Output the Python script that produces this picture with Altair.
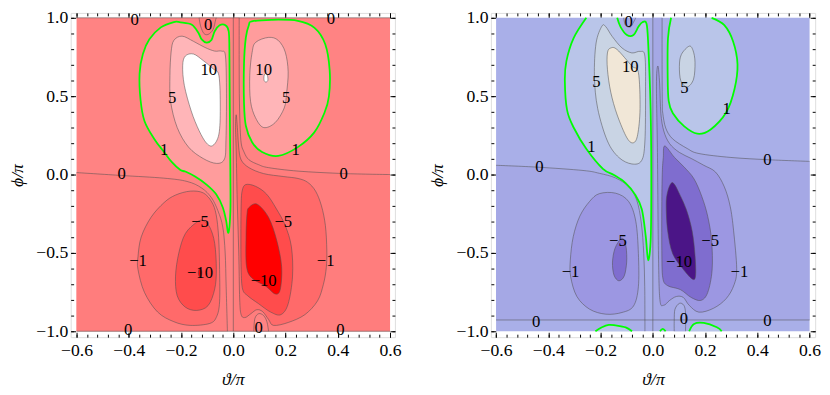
import altair as alt
import pandas as pd

FONT = "Liberation Serif"

# ---------------- axis ticks ----------------
X_MAJOR = [-0.6, -0.4, -0.2, 0.0, 0.2, 0.4, 0.6]
X_MINOR = [-0.6, -0.56, -0.52, -0.48, -0.44, -0.4, -0.36, -0.32, -0.28, -0.24, -0.2,
           -0.16, -0.12, -0.08, -0.04, 0.0, 0.04, 0.08, 0.12, 0.16, 0.2, 0.24, 0.28,
           0.32, 0.36, 0.4, 0.44, 0.48, 0.52, 0.56, 0.6]
Y_MAJOR = [-1.0, -0.5, 0.0, 0.5, 1.0]
Y_MINOR = [-1.0, -0.9, -0.8, -0.7, -0.6, -0.5, -0.4, -0.3, -0.2, -0.1, 0.0,
           0.1, 0.2, 0.3, 0.4, 0.5, 0.6, 0.7, 0.8, 0.9, 1.0]
DATA_BOX = [(-0.6, 0.6, -1.0, 1.0)]

# ---------------- left panel (red) contours, (theta/pi, phi/pi) ----------------
L_ZERO_LEFT = [(-0.6, 0.0125), (-0.4275, -0.006), (-0.266, -0.023), (-0.177, -0.044),
               (-0.121, -0.086), (-0.0836, -0.148), (-0.0589, -0.231), (-0.0401, -0.336),
               (-0.0311, -0.5), (-0.0274, -0.7125), (-0.0225, -1.0)]
L_ZERO_RIGHT = [(0.0225, 1.0), (0.0225, 0.706), (0.0236, 0.456), (0.0289, 0.219),
                (0.041, 0.144), (0.06, 0.094), (0.0975, 0.0625), (0.135, 0.044),
                (0.2475, 0.022), (0.424, 0.00625), (0.6, 0.0)]
L_ZERO_AXIS = [(0.0, 1.0), (0.0, -1.0)]
L_ZERO_TOP = [(-0.6, 1.0), (0.6, 1.0)]
L_ZERO_BOTTOM = [(-0.6, -1.0), (0.6, -1.0)]
L_POCKET_TOP = [(-0.131, 1.0), (-0.125, 0.946), (-0.1125, 0.9), (-0.0964, 0.894),
                (-0.0776, 0.925), (-0.0675, 0.9875), (-0.0649, 1.0)]
L_POCKET_BOT = [(0.0787, -1.0), (0.0825, -0.919), (0.0975, -0.8875), (0.116, -0.9),
                (0.1286, -0.939), (0.135, -1.0)]
L_P1_UL = [(-0.2276, 0.973), (-0.2025, 0.971), (-0.1586, 0.956), (-0.1339, 0.904),
           (-0.1211, 0.8625), (-0.1024, 0.842), (-0.0836, 0.858), (-0.0712, 0.914),
           (-0.0525, 0.952), (-0.030, 0.952), (-0.0176, 0.914), (-0.015, 0.8),
           (-0.0139, 0.531), (-0.0124, 0.219), (-0.0112, -0.0125), (-0.0112, -0.231),
           (-0.0187, -0.371), (-0.0274, -0.294), (-0.0401, -0.21), (-0.0649, -0.127),
           (-0.1024, -0.064), (-0.1462, -0.0125), (-0.1837, 0.019), (-0.2025, 0.029),
           (-0.236, 0.081), (-0.2651, 0.144), (-0.3026, 0.227), (-0.3401, 0.342),
           (-0.3551, 0.477), (-0.3588, 0.644), (-0.3461, 0.769), (-0.3213, 0.8625),
           (-0.2775, 0.939)]
L_P1_UR = [(0.071, 0.977), (0.146, 0.9875), (0.247, 0.981), (0.311, 0.936), (0.352, 0.831),
           (0.369, 0.664), (0.366, 0.498), (0.349, 0.394), (0.310, 0.269), (0.247, 0.175),
           (0.172, 0.119), (0.110, 0.144), (0.072, 0.206), (0.048, 0.311), (0.041, 0.456),
           (0.041, 0.706), (0.048, 0.873), (0.060, 0.956)]
L_P5_UL = [(-0.2276, 0.856), (-0.1961, 0.883), (-0.1526, 0.85), (-0.1087, 0.811),
           (-0.0712, 0.7875), (-0.045, 0.7875), (-0.030, 0.756), (-0.0262, 0.519),
           (-0.0281, 0.219), (-0.0337, 0.1), (-0.0637, 0.071), (-0.1151, 0.102),
           (-0.1714, 0.175), (-0.2148, 0.3), (-0.24, 0.467), (-0.2426, 0.633), (-0.2381, 0.781)]
L_P5_UR = [(0.135, 0.875), (0.172, 0.856), (0.199, 0.781), (0.21, 0.656), (0.204, 0.519),
           (0.195, 0.425), (0.16, 0.331), (0.116, 0.3), (0.085, 0.3625), (0.066, 0.467),
           (0.063, 0.633), (0.072, 0.779), (0.086, 0.844)]
L_P10_UL = [(-0.1837, 0.756), (-0.1526, 0.769), (-0.1151, 0.727), (-0.0776, 0.675),
            (-0.0551, 0.631), (-0.0499, 0.425), (-0.0551, 0.258), (-0.0776, 0.186),
            (-0.1024, 0.2), (-0.1312, 0.281), (-0.1612, 0.406), (-0.1875, 0.569), (-0.1938, 0.694)]
L_P10_UR = [(0.124, 0.645), (0.131, 0.63), (0.132, 0.6), (0.125, 0.59), (0.118, 0.6), (0.118, 0.63)]
L_M1_LL = [(-0.3648, -0.523), (-0.3525, -0.398), (-0.315, -0.273), (-0.2651, -0.179),
           (-0.2212, -0.131), (-0.165, -0.106), (-0.1151, -0.117), (-0.0825, -0.175),
           (-0.0656, -0.256), (-0.0562, -0.4), (-0.0525, -0.606), (-0.0525, -0.8125),
           (-0.0637, -0.906), (-0.09, -0.95), (-0.165, -0.9625), (-0.2276, -0.939),
           (-0.2899, -0.877), (-0.3401, -0.752), (-0.3648, -0.606)]
L_M1_LR = [(0.0112, 0.381), (0.0169, 0.269), (0.0206, 0.175), (0.03, 0.094), (0.06, 0.044),
           (0.116, 0.006), (0.191, -0.0125), (0.2475, -0.025), (0.285, -0.05), (0.315, -0.106),
           (0.3375, -0.2), (0.3525, -0.325), (0.358, -0.481), (0.356, -0.594), (0.345, -0.7),
           (0.3225, -0.806), (0.274, -0.894), (0.21, -0.944), (0.154, -0.9625), (0.135, -0.925),
           (0.1125, -0.875), (0.09, -0.8625), (0.0675, -0.8875), (0.045, -0.9125), (0.03, -0.894),
           (0.0244, -0.794), (0.0206, -0.481), (0.015, -0.169), (0.0112, 0.144), (0.0086, 0.3)]
L_M5_LL = [(-0.1399, -0.304), (-0.1837, -0.377), (-0.2088, -0.502), (-0.2212, -0.648),
           (-0.2148, -0.773), (-0.1837, -0.846), (-0.1399, -0.867), (-0.0964, -0.836),
           (-0.0712, -0.731), (-0.0649, -0.606), (-0.0712, -0.439), (-0.09, -0.336), (-0.1151, -0.294)]
L_M5_LR = [(0.0476, -0.064), (0.0851, -0.075), (0.1275, -0.125), (0.165, -0.219),
           (0.1987, -0.325), (0.2224, -0.461), (0.2268, -0.648), (0.21, -0.825),
           (0.1819, -0.894), (0.1425, -0.877), (0.0975, -0.825), (0.0562, -0.775),
           (0.0356, -0.731), (0.03, -0.606), (0.0289, -0.398), (0.03, -0.2), (0.0337, -0.106)]
L_M10_LL = [(-0.127, -0.6), (-0.121, -0.615), (-0.121, -0.64), (-0.127, -0.655),
            (-0.133, -0.64), (-0.133, -0.615)]
L_M10_LR = [(0.06, -0.21), (0.0911, -0.189), (0.135, -0.273), (0.1661, -0.419),
            (0.1849, -0.586), (0.18, -0.731), (0.1612, -0.7625), (0.1226, -0.7106),
            (0.0724, -0.6625), (0.0506, -0.586), (0.0487, -0.398), (0.0525, -0.252)]
L_LABELS = [("0", -0.378, 0.9875), ("0", 0.3735, 0.994), ("0", -0.0964, 0.956),
            ("10", -0.0937, 0.669), ("5", -0.2336, 0.4875), ("1", -0.2651, 0.154),
            ("10", 0.1162, 0.664), ("5", 0.2025, 0.4875), ("1", 0.2388, 0.154),
            ("0", -0.4275, 0.0), ("0", 0.4226, 0.0), ("−5", -0.1275, -0.304),
            ("−10", -0.1275, -0.627), ("−1", -0.3648, -0.554), ("−5", 0.1912, -0.304),
            ("−10", 0.1162, -0.679), ("−1", 0.3536, -0.554), ("0", 0.0975, -0.98),
            ("0", -0.4024, -0.992), ("0", 0.41, -0.995)]

# ---------------- right panel (blue) contours ----------------
R_ZERO_LEFT = [(-0.6, 0.059), (-0.44, 0.047), (-0.2673, 0.026), (-0.205, 0.008),
               (-0.1424, -0.022), (-0.0927, -0.078), (-0.0617, -0.163), (-0.0441, -0.309),
               (-0.0348, -0.503), (-0.031, -0.716), (-0.0303, -0.928), (-0.0303, -1.0)]
R_ZERO_RIGHT = [(0.0355, 1.0), (0.0355, 0.703), (0.0363, 0.453), (0.0381, 0.391),
                (0.0493, 0.297), (0.0755, 0.228), (0.1316, 0.166), (0.1764, 0.134),
                (0.2987, 0.109), (0.4482, 0.094), (0.6, 0.084)]
R_ZERO_AXIS = [(0.0, 1.0), (0.0, -1.0)]
R_ZERO_BOTTOM = [(-0.6, -0.928), (0.6, -0.928)]
R_POCKET_TOP = [(-0.1114, 1.0), (-0.105, 0.953), (-0.0864, 0.941), (-0.074, 0.972), (-0.0654, 1.0)]
R_POCKET_BOT = [(0.0819, -1.0), (0.0819, -0.928), (0.0849, -0.859), (0.1017, -0.822),
                (0.1185, -0.834), (0.1252, -0.884), (0.1252, -1.0)]
R_P1_UL = [(-0.2546, 1.0), (-0.3032, 0.87), (-0.3308, 0.724), (-0.3368, 0.597), (-0.3282, 0.411),
           (-0.3021, 0.297), (-0.2535, 0.161), (-0.191, 0.036), (-0.1488, -0.003), (-0.105, -0.053),
           (-0.0677, -0.128), (-0.0422, -0.222), (-0.0273, -0.391), (-0.0179, -0.547),
           (-0.0079, -0.401), (-0.006, 0.016), (-0.0086, 0.422), (-0.0179, 0.839),
           (-0.0243, 0.964), (-0.04, 0.972), (-0.0553, 0.9425), (-0.074, 0.89), (-0.0991, 0.89),
           (-0.1237, 0.9425), (-0.1364, 1.0)]
R_P1_UR = [(0.0699, 1.0), (0.058, 0.87), (0.0568, 0.63), (0.0606, 0.47), (0.0766, 0.391),
           (0.1204, 0.3075), (0.1701, 0.261), (0.2202, 0.286), (0.2811, 0.397), (0.3129, 0.547),
           (0.3241, 0.703), (0.3073, 0.849), (0.2736, 0.953), (0.225, 1.0)]
R_P1_BOT_A = [(-0.2198, -1.0), (-0.1948, -0.974), (-0.1686, -0.959), (-0.1424, -0.9625),
              (-0.1039, -0.975), (-0.0796, -1.0)]
R_P1_BOT_B = [(0.027, -1.0), (0.038, -0.984), (0.049, -1.0)]
R_P1_BOT_C = [(0.1391, -1.0), (0.1578, -0.953), (0.1951, -0.947), (0.2449, -0.974), (0.2636, -1.0)]
R_P5_UL = [(-0.1948, 0.947), (-0.2172, 0.839), (-0.2236, 0.63), (-0.2112, 0.422), (-0.1738, 0.214),
           (-0.1301, 0.109), (-0.0804, 0.0675), (-0.043, 0.089), (-0.0303, 0.214), (-0.028, 0.526),
           (-0.0303, 0.755), (-0.049, 0.786), (-0.0804, 0.776), (-0.1178, 0.8075),
           (-0.1551, 0.88), (-0.1798, 0.9425)]
R_P5_UR = [(0.139, 0.819), (0.1092, 0.766), (0.1017, 0.691), (0.1073, 0.597), (0.1316, 0.559),
           (0.1559, 0.609), (0.1615, 0.716), (0.154, 0.791)]
R_P10_UL = [(-0.1611, 0.8075), (-0.1364, 0.797), (-0.0804, 0.6925), (-0.0553, 0.651),
            (-0.049, 0.422), (-0.058, 0.255), (-0.074, 0.203), (-0.0991, 0.234), (-0.1364, 0.38),
            (-0.1611, 0.526), (-0.1738, 0.672), (-0.1738, 0.776)]
R_M1_LL = [(-0.3159, -0.547), (-0.3047, -0.397), (-0.2796, -0.266), (-0.2422, -0.172),
           (-0.2049, -0.122), (-0.1424, -0.119), (-0.0927, -0.172), (-0.0654, -0.297),
           (-0.0553, -0.503), (-0.0553, -0.716), (-0.074, -0.839), (-0.1178, -0.88),
           (-0.1798, -0.891), (-0.2422, -0.859), (-0.2908, -0.778), (-0.3144, -0.653)]
R_M1_LR = [(0.0194, 0.6925), (0.0262, 0.578), (0.0307, 0.391), (0.0419, 0.278), (0.0643, 0.197),
           (0.1017, 0.141), (0.1465, 0.103), (0.1951, 0.059), (0.24, 0.0156), (0.2736, -0.078),
           (0.2961, -0.203), (0.3092, -0.359), (0.321, -0.6), (0.311, -0.703), (0.2811, -0.791),
           (0.2325, -0.853), (0.1764, -0.878), (0.139, -0.834), (0.1166, -0.784), (0.0905, -0.778),
           (0.0643, -0.803), (0.0419, -0.834), (0.0269, -0.797), (0.0213, -0.484),
           (0.0176, 0.141), (0.0138, 0.578)]
R_M5_LL = [(-0.1226, -0.409), (-0.145, -0.472), (-0.1544, -0.559), (-0.1488, -0.641),
           (-0.1301, -0.678), (-0.1095, -0.647), (-0.1002, -0.559), (-0.1021, -0.466), (-0.1114, -0.416)]
R_M5_LR = [(0.0456, 0.1825), (0.083, 0.109), (0.1204, 0.047), (0.1578, -0.028), (0.1877, -0.141),
           (0.21, -0.266), (0.225, -0.422), (0.2269, -0.609), (0.21, -0.753), (0.1839, -0.803),
           (0.1465, -0.784), (0.1054, -0.734), (0.0568, -0.709), (0.0381, -0.659), (0.0344, -0.484),
           (0.0344, -0.172), (0.0363, 0.0156), (0.04, 0.109)]
R_M10_LR = [(0.0699, -0.056), (0.0568, -0.109), (0.0512, -0.191), (0.0568, -0.359), (0.0755, -0.503),
            (0.1129, -0.597), (0.1503, -0.666), (0.1634, -0.647), (0.1615, -0.516), (0.1503, -0.359),
            (0.1279, -0.222), (0.0979, -0.109), (0.0811, -0.059)]
R_LABELS = [("0", -0.0927, 0.974), ("10", -0.0864, 0.6825), ("5", -0.2161, 0.589),
            ("1", -0.2348, 0.172), ("1", 0.2822, 0.416), ("5", 0.1204, 0.553),
            ("0", -0.434, 0.047), ("0", 0.4381, 0.089), ("−5", -0.1339, -0.422),
            ("−1", -0.3148, -0.62), ("−10", 0.1005, -0.56), ("−5", 0.2194, -0.422),
            ("−1", 0.3316, -0.62), ("0", -0.4467, -0.939), ("0", 0.1193, -0.922),
            ("0", 0.4381, -0.9325)]

# ---------------- colours for each band ----------------
RED = {"lt_m10": "#FF0000", "m10_m5": "#FF4C4C", "m5_m1": "#FF6A6A", "m1_0": "#FF7D7D",
       "0_1": "#FF8383", "1_5": "#FF9C9C", "5_10": "#FFB5B8", "gt10": "#FFFFFF"}
BLUE = {"lt_m10": "#4B1587", "m10_m5": "#7F6DCF", "m5_m1": "#9C97E2", "m1_0": "#A5A8E5",
        "0_1": "#A9AFE8", "1_5": "#B9C5E9", "5_10": "#C9D4E4", "gt10": "#F1E7D7"}
GRAY = "#505050"
GREEN = "#00FF00"


def pts_df(pts):
    return pd.DataFrame({"t": [a for a, b in pts], "p": [b for a, b in pts],
                         "i": list(range(len(pts)))})


def multi_df(groups):
    rows = []
    for k, pts in enumerate(groups):
        for i, (a, b) in enumerate(pts):
            rows.append({"t": a, "p": b, "i": i, "g": k})
    return pd.DataFrame(rows)


def enc(xs, ys, with_detail=False):
    e = dict(x=alt.X("t:Q", scale=xs, axis=None), y=alt.Y("p:Q", scale=ys, axis=None),
             order=alt.Order("i:Q"))
    if with_detail:
        e["detail"] = alt.Detail("g:N")
    return e


def fill_poly(pts, color, xs, ys, interp):
    return alt.Chart(pts_df(pts)).mark_line(fill=color, strokeOpacity=0, interpolate=interp).encode(
        **enc(xs, ys))


def lines(groups, color, width, xs, ys, interp, opacity=1.0):
    return alt.Chart(multi_df(groups)).mark_line(
        stroke=color, strokeWidth=width, strokeOpacity=opacity, interpolate=interp).encode(
        **enc(xs, ys, True))


def axis_layers(xs, ys):
    d = pd.DataFrame({"t": [0.0], "p": [0.0]})
    com = dict(domain=False, grid=False, tickColor="black", tickWidth=1)
    lab = dict(labelFont=FONT, labelFontSize=18, labelColor="black", labelFlush=False,
               labelOverlap=False, format=".1f")
    a1 = alt.Chart(d).mark_point(opacity=0).encode(
        x=alt.X("t:Q", scale=xs, axis=alt.Axis(orient="bottom", values=X_MAJOR, tickSize=5, offset=-5,
                labelPadding=5, title="ϑ/π", titleFont=FONT, titleFontSize=18, titleFontStyle="italic",
                titleFontWeight="normal", titleColor="black", titlePadding=11, **lab, **com)),
        y=alt.Y("p:Q", scale=ys, axis=alt.Axis(orient="left", values=Y_MAJOR, tickSize=5, offset=-5,
                labelPadding=3, title="ϕ/π", titleFont=FONT, titleFontSize=18, titleFontStyle="italic",
                titleFontWeight="normal", titleColor="black", titlePadding=10, **lab, **com)))
    a2 = alt.Chart(d).mark_point(opacity=0).encode(
        x=alt.X("t:Q", scale=xs, axis=alt.Axis(orient="bottom", values=X_MINOR, tickSize=3, offset=-3,
                labels=False, title=None, **com)),
        y=alt.Y("p:Q", scale=ys, axis=alt.Axis(orient="left", values=Y_MINOR, tickSize=3, offset=-3,
                labels=False, title=None, **com)))
    a3 = alt.Chart(d).mark_point(opacity=0).encode(
        x=alt.X("t:Q", scale=xs, axis=alt.Axis(orient="top", values=X_MAJOR, tickSize=5, offset=-5,
                labels=False, title=None, **com)),
        y=alt.Y("p:Q", scale=ys, axis=alt.Axis(orient="right", values=Y_MAJOR, tickSize=5, offset=-5,
                labels=False, title=None, **com)))
    a4 = alt.Chart(d).mark_point(opacity=0).encode(
        x=alt.X("t:Q", scale=xs, axis=alt.Axis(orient="top", values=X_MINOR, tickSize=3, offset=-3,
                labels=False, title=None, **com)),
        y=alt.Y("p:Q", scale=ys, axis=alt.Axis(orient="right", values=Y_MINOR, tickSize=3, offset=-3,
                labels=False, title=None, **com)))
    return [a1, a2, a3, a4]


def background(color, xs, ys):
    b = DATA_BOX[0]
    d = pd.DataFrame({"t": [b[0]], "t2": [b[1]], "p": [b[2]], "p2": [b[3]]})
    return alt.Chart(d).mark_rect(fill=color, strokeWidth=0).encode(
        x=alt.X("t:Q", scale=xs, axis=None), x2="t2:Q",
        y=alt.Y("p:Q", scale=ys, axis=None), y2="p2:Q")


def label_layer(labels, xs, ys):
    d = pd.DataFrame({"txt": [a for a, b, c in labels], "t": [b for a, b, c in labels],
                      "p": [c for a, b, c in labels]})
    return alt.Chart(d).mark_text(font=FONT, fontSize=17, color="black", baseline="middle",
                                  align="center").encode(
        x=alt.X("t:Q", scale=xs, axis=None), y=alt.Y("p:Q", scale=ys, axis=None), text="txt:N")


W = 331
H = 331
YS_DOM = [-1.0375, 1.03125]

# ---------------- left panel ----------------
xsL = alt.Scale(domain=[-0.6225, 0.6187], nice=False, zero=False)
ysL = alt.Scale(domain=YS_DOM, nice=False, zero=False)
C = RED
left_layers = [
    background(C["0_1"], xsL, ysL),
    fill_poly(L_ZERO_LEFT + [(-0.6, -1.0)], C["m1_0"], xsL, ysL, "linear-closed"),
    fill_poly([(0.0, 1.0)] + L_ZERO_RIGHT + [(0.6, -1.0), (0.0, -1.0)], C["m1_0"], xsL, ysL, "linear-closed"),
    fill_poly(L_POCKET_TOP, C["m1_0"], xsL, ysL, "linear-closed"),
    fill_poly(L_P1_UL, C["1_5"], xsL, ysL, "cardinal-closed"),
    fill_poly(L_P1_UR, C["1_5"], xsL, ysL, "cardinal-closed"),
    fill_poly(L_P5_UL, C["5_10"], xsL, ysL, "cardinal-closed"),
    fill_poly(L_P5_UR, C["5_10"], xsL, ysL, "cardinal-closed"),
    fill_poly(L_P10_UL, C["gt10"], xsL, ysL, "cardinal-closed"),
    fill_poly(L_P10_UR, C["gt10"], xsL, ysL, "cardinal-closed"),
    fill_poly(L_M1_LL, C["m5_m1"], xsL, ysL, "cardinal-closed"),
    fill_poly(L_M1_LR, C["m5_m1"], xsL, ysL, "cardinal-closed"),
    fill_poly(L_POCKET_BOT, C["0_1"], xsL, ysL, "linear-closed"),
    fill_poly(L_M5_LL, C["m10_m5"], xsL, ysL, "cardinal-closed"),
    fill_poly(L_M5_LR, C["m10_m5"], xsL, ysL, "cardinal-closed"),
    fill_poly(L_M10_LL, C["lt_m10"], xsL, ysL, "cardinal-closed"),
    fill_poly(L_M10_LR, C["lt_m10"], xsL, ysL, "cardinal-closed"),
    lines([L_P5_UL, L_P5_UR, L_P10_UL, L_P10_UR, L_M1_LL, L_M1_LR, L_M5_LL, L_M5_LR,
           L_M10_LL, L_M10_LR], GRAY, 0.9, xsL, ysL, "cardinal-closed", 0.6),
    lines([L_ZERO_LEFT, L_ZERO_RIGHT, L_POCKET_TOP, L_POCKET_BOT], GRAY, 0.9, xsL, ysL, "cardinal", 0.6),
    lines([L_ZERO_AXIS, L_ZERO_TOP, L_ZERO_BOTTOM], GRAY, 0.9, xsL, ysL, "linear", 0.6),
    lines([L_P1_UL, L_P1_UR], GREEN, 1.8, xsL, ysL, "cardinal-closed"),
    label_layer(L_LABELS, xsL, ysL),
] + axis_layers(xsL, ysL)
left = alt.layer(*left_layers).resolve_axis(x="independent", y="independent").properties(width=W, height=H)

# ---------------- right panel ----------------
xsR = alt.Scale(domain=[-0.6198, 0.6213], nice=False, zero=False)
ysR = alt.Scale(domain=YS_DOM, nice=False, zero=False)
C = BLUE
right_layers = [
    background(C["0_1"], xsR, ysR),
    fill_poly(R_ZERO_LEFT[:-1] + [(-0.6, -0.928)], C["m1_0"], xsR, ysR, "linear-closed"),
    fill_poly([(0.0, 1.0)] + R_ZERO_RIGHT + [(0.6, -0.928), (0.0, -0.928)], C["m1_0"], xsR, ysR, "linear-closed"),
    fill_poly(R_POCKET_TOP, C["m1_0"], xsR, ysR, "linear-closed"),
    fill_poly(R_P1_UL, C["1_5"], xsR, ysR, "linear-closed"),
    fill_poly(R_P1_UR, C["1_5"], xsR, ysR, "linear-closed"),
    fill_poly(R_P1_BOT_A, C["1_5"], xsR, ysR, "linear-closed"),
    fill_poly(R_P1_BOT_B, C["1_5"], xsR, ysR, "linear-closed"),
    fill_poly(R_P1_BOT_C, C["1_5"], xsR, ysR, "linear-closed"),
    fill_poly(R_P5_UL, C["5_10"], xsR, ysR, "cardinal-closed"),
    fill_poly(R_P5_UR, C["5_10"], xsR, ysR, "cardinal-closed"),
    fill_poly(R_P10_UL, C["gt10"], xsR, ysR, "cardinal-closed"),
    fill_poly(R_M1_LL, C["m5_m1"], xsR, ysR, "cardinal-closed"),
    fill_poly(R_M1_LR, C["m5_m1"], xsR, ysR, "cardinal-closed"),
    fill_poly(R_POCKET_BOT, C["0_1"], xsR, ysR, "linear-closed"),
    fill_poly(R_M5_LL, C["m10_m5"], xsR, ysR, "cardinal-closed"),
    fill_poly(R_M5_LR, C["m10_m5"], xsR, ysR, "cardinal-closed"),
    fill_poly(R_M10_LR, C["lt_m10"], xsR, ysR, "cardinal-closed"),
    lines([R_P5_UL, R_P5_UR, R_P10_UL, R_M1_LL, R_M1_LR, R_M5_LL, R_M5_LR, R_M10_LR],
          GRAY, 0.9, xsR, ysR, "cardinal-closed", 0.6),
    lines([R_ZERO_LEFT, R_ZERO_RIGHT, R_POCKET_TOP, R_POCKET_BOT], GRAY, 0.9, xsR, ysR, "cardinal", 0.6),
    lines([R_ZERO_AXIS, R_ZERO_BOTTOM], GRAY, 0.9, xsR, ysR, "linear", 0.6),
    lines([R_P1_UL, R_P1_UR, R_P1_BOT_A, R_P1_BOT_B, R_P1_BOT_C], GREEN, 1.8, xsR, ysR, "cardinal"),
    label_layer(R_LABELS, xsR, ysR),
] + axis_layers(xsR, ysR)
right = alt.layer(*right_layers).resolve_axis(x="independent", y="independent").properties(width=W, height=H)

chart = alt.hconcat(left, right, spacing=26).properties(
    padding={"left": -1, "top": -4, "right": 0, "bottom": 0}
).configure_view(stroke="black", strokeWidth=1.5).configure(background="white")

chart.save("out.html", embed_options={"renderer": "svg", "actions": False})
